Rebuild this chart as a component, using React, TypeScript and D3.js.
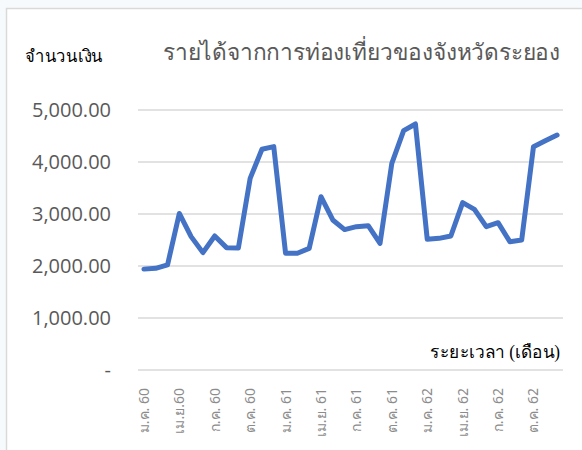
import React from "react";
import * as d3 from "d3";

const width = 582;
const height = 450;
const margin = { top: 110, right: 19, bottom: 80, left: 138 };

// months (Thai Buddhist years 2560-2562)
const months = [
  "ม.ค. 60", "ก.พ. 60", "มี.ค. 60", "เม.ย.60", "พ.ค. 60", "มิ.ย. 60",
  "ก.ค. 60", "ส.ค. 60", "ก.ย. 60", "ต.ค. 60", "พ.ย. 60", "ธ.ค. 60",
  "ม.ค. 61", "ก.พ. 61", "มี.ค. 61", "เม.ย. 61", "พ.ค. 61", "มิ.ย. 61",
  "ก.ค. 61", "ส.ค. 61", "ก.ย. 61", "ต.ค. 61", "พ.ย. 61", "ธ.ค. 61",
  "ม.ค. 62", "ก.พ. 62", "มี.ค. 62", "เม.ย. 62", "พ.ค. 62", "มิ.ย. 62",
  "ก.ค. 62", "ส.ค. 62", "ก.ย. 62", "ต.ค. 62", "พ.ย. 62", "ธ.ค. 62"
];

// tourism income
const income = [
  1940, 1955, 2020, 3010, 2565, 2257, 2577, 2353, 2345, 3686, 4244, 4295,
  2245, 2245, 2340, 3333, 2885, 2700, 2756, 2776, 2436, 3974, 4603, 4731,
  2513, 2532, 2577, 3218, 3090, 2756, 2833, 2468, 2500, 4295, 4410, 4519
];

const yTicks = [0, 1000, 2000, 3000, 4000, 5000];

const title = "รายได้จากการท่องเที่ยวของจังหวัดระยอง";
const yLabel = "จำนวนเงิน";
const xLabel = "ระยะเวลา (เดือน)";

export default function App() {
  const x = d3
    .scaleBand<number>()
    .domain(d3.range(months.length))
    .range([margin.left, width - margin.right]);
  const y = d3
    .scaleLinear()
    .domain([0, 5000])
    .range([height - margin.bottom, margin.top]);

  const cx = (i: number) => (x(i) as number) + x.bandwidth() / 2;
  const line = d3
    .line<number>()
    .x((d, i) => cx(i))
    .y(d => y(d));

  const fmt = d3.format(",.2f");

  return (
    <svg
      width={width}
      height={height}
      style={{ position: "absolute", left: 0, top: 0, background: "#f7fafd" }}
    >
      <rect x={6.5} y={8.5} width={width} height={height} fill="#fff" stroke="#d9d9d9" strokeWidth={1.5} />

      {yTicks.map(t => (
        <g key={t}>
          <line x1={margin.left} x2={width - margin.right} y1={y(t)} y2={y(t)} stroke="#d9d9d9" strokeWidth={1.5} />
          <text
            x={111}
            y={y(t)}
            dy="0.36em"
            textAnchor="end"
            fill="#595959"
            fontFamily="'Open Sans', sans-serif"
            fontSize={20}
          >
            {t === 0 ? "-" : fmt(t)}
          </text>
        </g>
      ))}

      {months.map((m, i) =>
        i % 3 === 0 ? (
          <text
            key={m}
            transform={`translate(${cx(i) + 5},${y(0) + 18}) rotate(-90)`}
            textAnchor="end"
            fill="#8c8c8c"
            fontFamily="'Noto Sans', sans-serif"
            fontSize={14}
          >
            {m}
          </text>
        ) : null
      )}

      <path
        d={line(income) ?? ""}
        fill="none"
        stroke="#4472c4"
        strokeWidth={5}
        strokeLinejoin="round"
        strokeLinecap="round"
      />

      <text
        x={163}
        y={60}
        fill="#595959"
        fontFamily="serif"
        fontSize={23}
        textLength={397}
        lengthAdjust="spacingAndGlyphs"
      >
        {title}
      </text>
      <text x={25} y={62} fill="#000" fontFamily="serif" fontSize={17} textLength={78} lengthAdjust="spacingAndGlyphs">
        {yLabel}
      </text>
      <text
        x={560}
        y={358}
        textAnchor="end"
        fill="#000"
        fontFamily="serif"
        fontSize={18}
        textLength={130}
        lengthAdjust="spacingAndGlyphs"
      >
        {xLabel}
      </text>
    </svg>
  );
}
